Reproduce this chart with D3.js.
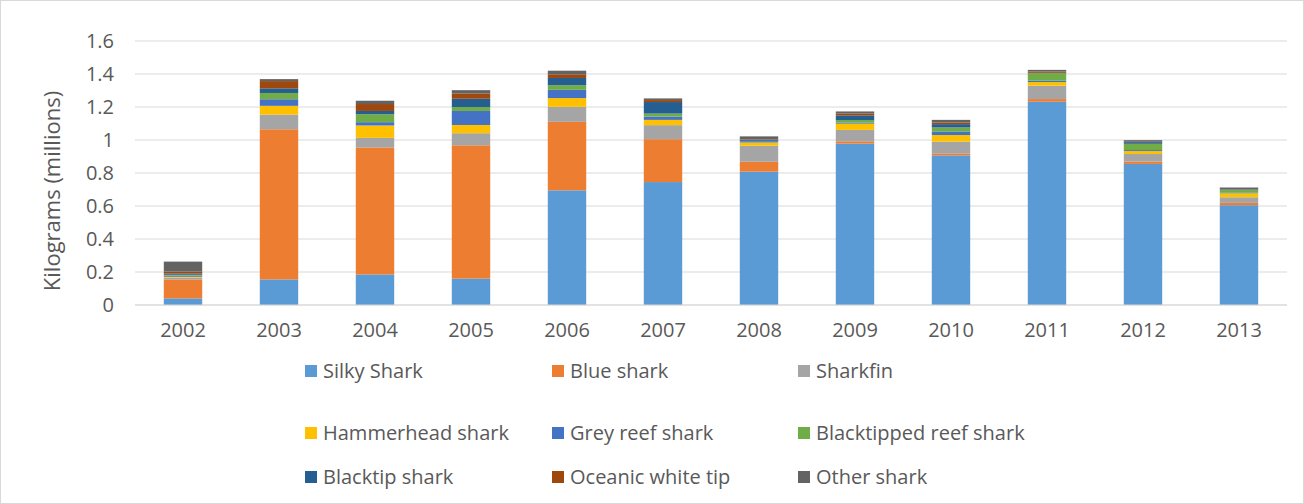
<!DOCTYPE html>
<html>
<head>
<meta charset="utf-8">
<script src="https://cdn.jsdelivr.net/npm/d3@7"></script>
<style>
  html, body { margin: 0; padding: 0; background: #fff; }
  svg { display: block; font-family: "Open Sans", "Liberation Sans", sans-serif; }
</style>
</head>
<body>
<svg id="chart" width="1304" height="504"></svg>
<script>
const years = ["2002","2003","2004","2005","2006","2007","2008","2009","2010","2011","2012","2013"];
const seriesNames = ["Silky Shark","Blue shark","Sharkfin","Hammerhead shark","Grey reef shark","Blacktipped reef shark","Blacktip shark","Oceanic white tip","Other shark"];
const silky       = [0.040, 0.155, 0.185, 0.160, 0.695, 0.745, 0.808, 0.978, 0.907, 1.232, 0.855, 0.605];
const blue        = [0.115, 0.910, 0.770, 0.808, 0.415, 0.260, 0.060, 0.014, 0.012, 0.016, 0.014, 0.014];
const sharkfin    = [0.010, 0.089, 0.058, 0.073, 0.091, 0.085, 0.097, 0.069, 0.071, 0.081, 0.046, 0.034];
const hammerhead  = [0.006, 0.053, 0.075, 0.050, 0.053, 0.032, 0.020, 0.038, 0.040, 0.022, 0.018, 0.024];
const greyReef    = [0.008, 0.040, 0.020, 0.085, 0.050, 0.020, 0.008, 0.006, 0.022, 0.008, 0.006, 0.003];
const blacktipped = [0.004, 0.038, 0.048, 0.024, 0.028, 0.018, 0.002, 0.016, 0.024, 0.046, 0.038, 0.016];
const blacktip    = [0.008, 0.028, 0.020, 0.050, 0.044, 0.070, 0.006, 0.028, 0.020, 0.002, 0.010, 0.004];
const oceanic     = [0.012, 0.044, 0.042, 0.032, 0.022, 0.012, 0.003, 0.012, 0.010, 0.008, 0.002, 0.002];
const other       = [0.060, 0.012, 0.020, 0.020, 0.022, 0.010, 0.018, 0.012, 0.016, 0.010, 0.010, 0.010];
const yTicks = [0, 0.2, 0.4, 0.6, 0.8, 1, 1.2, 1.4, 1.6];
const colors = ["#5B9BD5","#ED7D31","#A5A5A5","#FFC000","#4472C4","#70AD47","#255E91","#9E480E","#636363"];

const seriesValues = [silky, blue, sharkfin, hammerhead, greyReef, blacktipped, blacktip, oceanic, other];
const rows = years.map((y, i) => {
  const r = { year: y };
  seriesNames.forEach((s, k) => r[s] = seriesValues[k][i]);
  return r;
});

const FONT = "Open Sans, Liberation Sans, sans-serif";
const svg = d3.select("#chart");
svg.append("rect").attr("x", 0.5).attr("y", 0.5).attr("width", 1303).attr("height", 503)
  .attr("fill", "#fff").attr("stroke", "#d9d9d9");

const x = d3.scaleBand().domain(years).range([135, 1287]).paddingInner(0.6).paddingOuter(0.3);
const y = d3.scaleLinear().domain([0, 1.6]).range([305, 41]);

svg.append("g").selectAll("line").data(yTicks).join("line")
  .attr("x1", 135).attr("x2", 1287)
  .attr("y1", d => y(d)).attr("y2", d => y(d))
  .attr("stroke", "#d9d9d9").attr("stroke-width", 1);

const yAxis = d3.axisLeft(y).tickValues(yTicks).tickSize(0).tickPadding(0)
  .tickFormat(d => d3.format("")(+d.toFixed(1)));
const gy = svg.append("g").attr("transform", "translate(114,0)").call(yAxis);
gy.select(".domain").remove();
gy.selectAll("text").attr("font-size", 20).attr("fill", "#595959").attr("font-family", FONT);

const xAxis = d3.axisBottom(x).tickSize(0).tickPadding(18);
const gx = svg.append("g").attr("transform", "translate(0,305)").call(xAxis);
gx.select(".domain").remove();
gx.selectAll("text").attr("font-size", 20).attr("fill", "#595959").attr("font-family", FONT);

const stack = d3.stack().keys(seriesNames)(rows);
svg.append("g").selectAll("g").data(stack).join("g")
  .attr("fill", (d, i) => colors[i])
  .selectAll("rect").data(d => d).join("rect")
  .attr("x", d => x(d.data.year))
  .attr("width", x.bandwidth())
  .attr("y", d => y(d[1]))
  .attr("height", d => Math.max(0, y(d[0]) - y(d[1])));

svg.append("line").attr("x1", 135).attr("x2", 1287).attr("y1", y(0)).attr("y2", y(0))
  .attr("stroke", "#d9d9d9");

svg.append("text")
  .attr("transform", "translate(52,191) rotate(-90)")
  .attr("text-anchor", "middle").attr("dy", "0.35em")
  .attr("font-size", 22).attr("fill", "#595959").attr("font-family", FONT)
  .text("Kilograms (millions)");

const colX = [305, 552, 798];
const rowY = [371, 433, 477];
const leg = svg.append("g").selectAll("g").data(seriesNames).join("g")
  .attr("transform", (d, i) => `translate(${colX[i % 3]},${rowY[Math.floor(i / 3)]})`);
leg.append("rect").attr("x", 0).attr("y", -6).attr("width", 12).attr("height", 12)
  .attr("fill", (d, i) => colors[i]);
leg.append("text").attr("x", 18).attr("y", 0).attr("dy", "0.35em")
  .attr("font-size", 20).attr("fill", "#595959").attr("font-family", FONT).text(d => d);
</script>
</body>
</html>
